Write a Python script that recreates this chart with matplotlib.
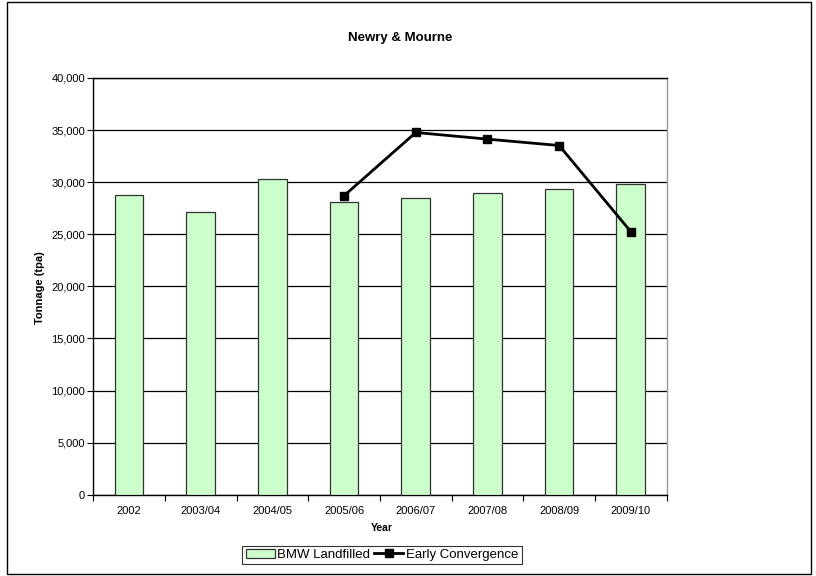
import numpy as np
import matplotlib
matplotlib.use("Agg")
import matplotlib.pyplot as plt
from matplotlib.patches import Rectangle
from matplotlib.ticker import FuncFormatter

plt.rcParams['font.family'] = ['Liberation Sans', 'DejaVu Sans']

years = ['2002', '2003/04', '2004/05', '2005/06', '2006/07', '2007/08', '2008/09', '2009/10']
bmw_landfilled = [28730, 27110, 30290, 28080, 28520, 28940, 29390, 29820]
early_convergence = [np.nan, np.nan, np.nan, 28710, 34770, 34130, 33520, 25250]

fig = plt.figure(figsize=(8.16, 5.76), dpi=100)
ax = fig.add_axes([0.1143, 0.1411, 0.7027, 0.7235])

x = np.arange(len(years))
bars = ax.bar(x, bmw_landfilled, width=0.4, color='#CCFFCC', edgecolor='#333333',
              linewidth=0.9, label='BMW Landfilled', zorder=3)
line, = ax.plot(x, early_convergence, color='black', linewidth=2, marker='s',
                markersize=6, label='Early Convergence', zorder=4)

ax.set_ylim(0, 40000)
ax.set_xlim(-0.5, len(years) - 0.5)
ax.set_yticks(np.arange(0, 40001, 5000))
ax.yaxis.set_major_formatter(FuncFormatter(lambda v, p: f'{int(v):,}'))
ax.yaxis.grid(True, color='black', linewidth=0.9, zorder=0)

ax.set_xticks(np.arange(-0.5, len(years), 1.0))
ax.set_xticklabels([])
ax.set_xticks(x, minor=True)
ax.set_xticklabels(years, minor=True)
ax.tick_params(axis='x', which='minor', length=0, labelsize=8, pad=8)
ax.tick_params(axis='x', which='major', length=4, width=0.8, direction='out')
ax.tick_params(axis='y', length=4, width=0.8, labelsize=8, pad=2)

for s in ['left', 'bottom', 'top']:
    ax.spines[s].set_color('black')
    ax.spines[s].set_linewidth(1.0)
ax.spines['right'].set_color('#999999')
ax.spines['right'].set_linewidth(1.0)

fig.text(0.049, 0.5, 'Tonnage (tpa)', ha='center', va='center', rotation=90,
         fontsize=8, fontweight='bold')
fig.text(0.4681, 0.0825, 'Year', ha='center', va='center',
         fontsize=7.5, fontweight='bold')
fig.text(0.4902, 0.934, 'Newry & Mourne', ha='center', va='center',
         fontsize=9.5, fontweight='bold')

leg = fig.legend([bars, line], ['BMW Landfilled', 'Early Convergence'],
                 loc='center', bbox_to_anchor=(0.4681, 0.0365), ncol=2,
                 fontsize=9.5, frameon=True, fancybox=False, borderpad=0.25,
                 handlelength=2.2, handletextpad=0.2, columnspacing=0.3,
                 borderaxespad=0)
leg.get_frame().set_edgecolor('black')
leg.get_frame().set_linewidth(0.8)

fig.patches.append(Rectangle((0.008, 0.003), 0.986, 0.993, transform=fig.transFigure,
                             fill=False, edgecolor='black', linewidth=1.0))

fig.savefig('out.png', dpi=100)
